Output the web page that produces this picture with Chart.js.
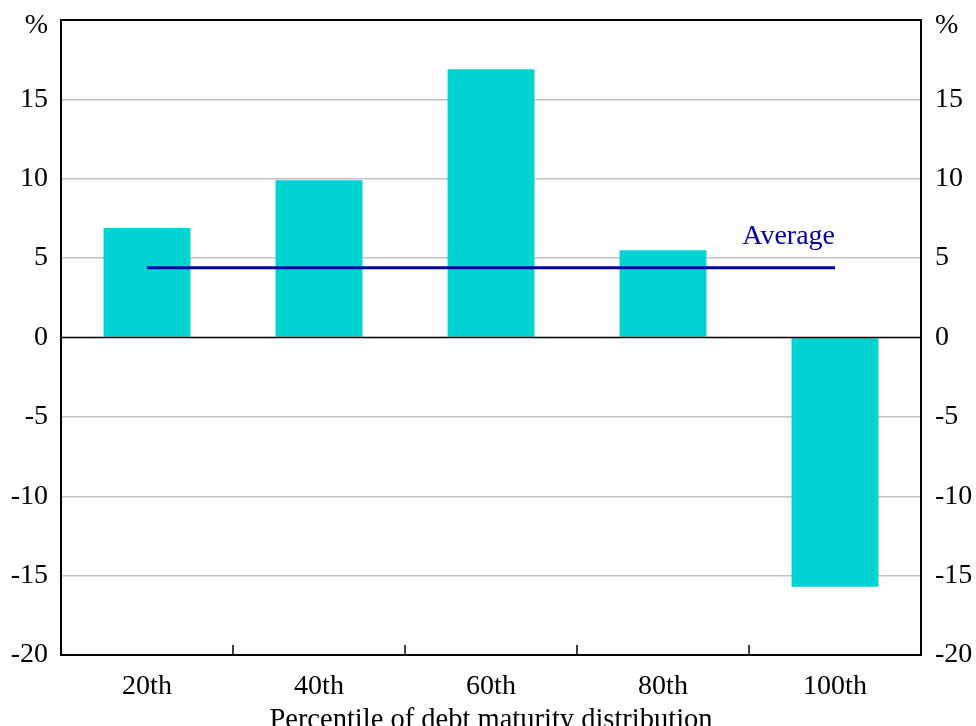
<!DOCTYPE html>
<html>
<head>
<meta charset="utf-8">
<script src="https://cdn.jsdelivr.net/npm/chart.js@4/dist/chart.umd.min.js"></script>
<style>
html,body{margin:0;padding:0;background:#fff;}
#wrap{width:976px;height:726px;}
</style>
</head>
<body>
<div id="wrap"><canvas id="c" width="976" height="726"></canvas></div>
<script>
const categories = ['20th', '40th', '60th', '80th', '100th'];
const barValues = [6.9, 9.9, 16.9, 5.5, -15.7];
const averageValue = 4.4;
const averageValues = categories.map(() => averageValue);
const yTicks = [-20, -15, -10, -5, 0, 5, 10, 15, 20];
const unitLabel = '%';
const xTitle = 'Percentile of debt maturity distribution';
const averageLabel = 'Average';

const FONT = "'Liberation Serif', 'Times New Roman', serif";
const FS = 28;

const framePlugin = {
  id: 'frame',
  afterDatasetsDraw(chart) {
    const {ctx, chartArea: a, scales: {x, y}} = chart;
    ctx.save();
    ctx.strokeStyle = '#000';
    ctx.lineWidth = 1.5;
    for (let i = 0; i < categories.length - 1; i++) {
      const px = (x.getPixelForValue(i) + x.getPixelForValue(i + 1)) / 2;
      ctx.beginPath();
      ctx.moveTo(px, a.bottom);
      ctx.lineTo(px, a.bottom - 10);
      ctx.stroke();
    }
    const y0 = y.getPixelForValue(0);
    ctx.beginPath();
    ctx.moveTo(a.left, y0);
    ctx.lineTo(a.right, y0);
    ctx.stroke();
    ctx.lineWidth = 2;
    ctx.strokeRect(a.left, a.top, a.right - a.left, a.bottom - a.top);
    // unit labels
    ctx.fillStyle = '#000';
    ctx.font = FS + 'px ' + FONT;
    ctx.textBaseline = 'middle';
    const uy = y.getPixelForValue(20) + 6;
    ctx.textAlign = 'right';
    ctx.fillText(unitLabel, a.left - 13, uy);
    ctx.textAlign = 'left';
    ctx.fillText(unitLabel, a.right + 14, uy);
    // average label
    const lx = x.getPixelForValue(categories.length - 1);
    const ly = y.getPixelForValue(averageValue);
    ctx.fillStyle = '#0000A8';
    ctx.textAlign = 'right';
    ctx.fillText(averageLabel, lx, ly - 31);
    ctx.restore();
  }
};

const tickCb = (v) => (v === 20 ? '' : String(v));
const fitY = (w) => (s) => { s.width = w; s.paddingTop = 0; s.paddingBottom = 0; };

const chart = new Chart(document.getElementById('c'), {
  data: {
    labels: categories,
    datasets: [
      {
        type: 'line',
        data: averageValues,
        borderColor: '#0000A8',
        borderWidth: 3,
        pointRadius: 0,
        fill: false,
        order: 0
      },
      {
        type: 'bar',
        data: barValues,
        backgroundColor: '#00D3D3',
        borderWidth: 0,
        categoryPercentage: 1,
        barPercentage: 0.505,
        order: 1
      }
    ]
  },
  options: {
    responsive: false,
    animation: false,
    devicePixelRatio: 1,
    layout: { padding: { top: 20, left: 0, right: 0, bottom: 0 } },
    plugins: { legend: { display: false }, tooltip: { enabled: false } },
    scales: {
      x: {
        type: 'category',
        offset: true,
        grid: { display: false, drawTicks: false },
        border: { display: false },
        ticks: { color: '#000', font: { family: FONT, size: FS }, padding: 15, maxRotation: 0 },
        title: {
          display: true, text: xTitle, color: '#000',
          font: { family: FONT, size: 28.5, lineHeight: 1.0 },
          padding: { top: 0, bottom: -9 }
        },
        afterFit(s) { s.height = 71; s.paddingLeft = 0; s.paddingRight = 0; }
      },
      y: {
        position: 'left',
        min: -20, max: 20,
        afterBuildTicks(s) { s.ticks = yTicks.map(v => ({ value: v })); },
        grid: {
          drawTicks: false,
          color: (c) => (c.tick && (c.tick.value === 0 || Math.abs(c.tick.value) === 20) ? 'rgba(0,0,0,0)' : '#C2C2C2'),
          lineWidth: 1.5
        },
        border: { display: false },
        ticks: { color: '#000', font: { family: FONT, size: FS }, padding: 13, callback: tickCb },
        afterFit: fitY(61)
      },
      y2: {
        position: 'right',
        min: -20, max: 20,
        afterBuildTicks(s) { s.ticks = yTicks.map(v => ({ value: v })); },
        grid: { display: false, drawTicks: false },
        border: { display: false },
        ticks: { color: '#000', font: { family: FONT, size: FS }, padding: 14, callback: tickCb },
        afterFit: fitY(55)
      }
    }
  },
  plugins: [framePlugin]
});
</script>
</body>
</html>
